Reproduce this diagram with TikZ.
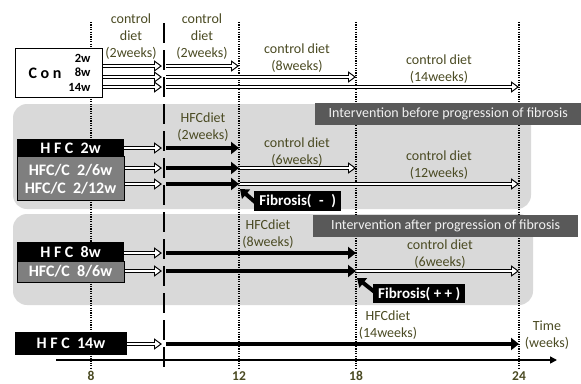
\documentclass[tikz,border=0pt]{standalone}
\usepackage{fontspec}
\setmainfont{Carlito}
\usetikzlibrary{arrows.meta}
\definecolor{dietcol}{HTML}{4A4A22}
\definecolor{panelgray}{HTML}{D9D9D9}
\definecolor{labelgray}{HTML}{595959}
\definecolor{boxgray}{HTML}{7F7F7F}
\definecolor{labeltext}{HTML}{F2F2F2}
\tikzset{
  panel/.style={fill=panelgray, rounded corners=14pt},
  dotline/.style={line width=1.2pt, dash pattern=on 1.2pt off 1.2pt},
  dashline/.style={line width=2.4pt, dash pattern=on 20pt off 7pt},
  hollow/.style={line width=4.8pt, -{Triangle[length=8pt,width=11pt]},
    postaction={draw=white, line width=2.4pt, shorten >=1.94pt,
      -{Triangle[length=4.96pt,width=6.82pt]}}},
  solidarr/.style={line width=4.6pt, -{Triangle[length=8pt,width=12pt]}},
  fibarr/.style={line width=4pt, -{Triangle[length=8pt,width=12pt]}},
  axisarr/.style={line width=1.6pt, -{Triangle[length=7pt,width=7pt]}},
  diet/.style={text=dietcol, align=center, font=\fontsize{14}{17}\selectfont},
  tick/.style={text=dietcol, anchor=base, inner sep=0pt, font=\fontsize{13.5}{16}\selectfont\bfseries},
  boxbase/.style={anchor=north west, inner sep=0pt, minimum width=107pt},
  blackbox/.style={boxbase, fill=black},
  graybox/.style={boxbase, fill=boxgray, draw=black, line width=0.8pt},
  boxtext/.style={text=white, font=\fontsize{16}{19}\selectfont\bfseries},
  labelbox/.style={anchor=north west, inner sep=0pt, fill=labelgray, text=labeltext,
    minimum height=22pt, font=\fontsize{14}{17}\selectfont},
  fibbox/.style={anchor=north west, inner sep=0pt, fill=black, text=white,
    font=\fontsize{15}{18}\selectfont\bfseries},
}
\begin{document}
\begin{tikzpicture}[x=1pt,y=-1pt]
\useasboundingbox (0,0) rectangle (581,383);
% panels
\fill[panel] (13,104) rectangle (531,209);
\fill[panel] (13,214) rectangle (533,305);
% time grid
\foreach \x in {91,239,356,519} \draw[dotline] (\x,22) -- (\x,369);
\draw[dashline] (164,23) -- (164,367);
% intervention labels
\node[labelbox, minimum width=266pt] (lb1) at (315,103) {Intervention before progression of fibrosis};
\node[labelbox, minimum width=265pt] (lb2) at (313,215) {Intervention after progression of fibrosis};
% boxes
\node[anchor=north west, inner sep=0pt, minimum width=87pt, minimum height=49pt, draw=black, fill=white, line width=0.8pt] (con) at (15,48) {};
\node[font=\fontsize{16}{19}\selectfont\bfseries] (contxt) at (45,73) {C o n};
\node[anchor=east, font=\fontsize{12.5}{15}\selectfont\bfseries] (c2) at (94,58) {2w};
\node[anchor=east, font=\fontsize{12.5}{15}\selectfont\bfseries] (c8) at (94,72) {8w};
\node[anchor=east, font=\fontsize{12.5}{15}\selectfont\bfseries] (c14) at (94,87) {14w};

\node[blackbox, minimum height=17pt] (hfc2) at (17,139) {};
\node[graybox, minimum height=44pt] (hfcc2) at (17,156) {};
\node[boxtext] at (70.5,148) {H F C~ 2w};
\node[boxtext] at (70.5,170) {HFC/C~ 2/6w};
\node[boxtext] at (70.5,188) {HFC/C~ 2/12w};

\node[blackbox, minimum height=19pt] (hfc8) at (17,242) {};
\node[graybox, minimum height=21pt] (hfcc8) at (17,261) {};
\node[boxtext] at (70.5,252) {H F C~ 8w};
\node[boxtext] at (70.5,271.5) {HFC/C~ 8/6w};

\node[blackbox, minimum width=112pt, minimum height=23pt] (hfc14) at (15,332) {};
\node[boxtext] at (71,343.5) {H F C~ 14w};

% control arrows
\draw[hollow] (con.east |- 0,66) -- (162,66);
\draw[hollow] (con.east |- 0,77) -- (162,77);
\draw[hollow] (con.east |- 0,87) -- (162,87);
\draw[hollow] (166,66) -- (239,66);
\draw[hollow] (166,77) -- (356,77);
\draw[hollow] (166,87) -- (519,87);

% panel 1 arrows
\draw[hollow] (hfc2.east |- 0,148) -- (162,148);
\draw[hollow] (hfcc2.east |- 0,168) -- (162,168);
\draw[hollow] (hfcc2.east |- 0,184) -- (162,184);
\draw[solidarr] (166,148) -- (239,148);
\draw[solidarr] (166,168) -- (239,168);
\draw[solidarr] (166,184) -- (239,184);
\draw[hollow] (240,168) -- (356,168);
\draw[hollow] (240,184) -- (519,184);

% panel 2 arrows
\draw[hollow] (hfc8.east |- 0,253) -- (162,253);
\draw[hollow] (hfcc8.east |- 0,271) -- (162,271);
\draw[solidarr] (166,253) -- (356,253);
\draw[solidarr] (166,271) -- (356,271);
\draw[hollow] (357,271) -- (519,271);

% bottom row
\draw[hollow] (hfc14.east |- 0,344) -- (162,344);
\draw[solidarr] (166,344) -- (519,344);
\draw[axisarr] (56,360) -- (557,360);

% fibrosis markers
\draw[fibarr] (262,208) -- (240,189);
\node[fibbox, minimum width=87pt, minimum height=20pt] (fb1) at (254,191) {Fibrosis(\enspace-\enspace)};
\draw[fibarr] (381,297) -- (357,278);
\node[fibbox, minimum width=92pt, minimum height=19pt] (fb2) at (373,284) {Fibrosis(~+~+~)};

% diet labels
\node[diet] at (131,37) {control\\diet\\(2weeks)};
\node[diet] at (202,37) {control\\diet\\(2weeks)};
\node[diet] at (297,58) {control diet\\(8weeks)};
\node[diet] at (439,69) {control diet\\(14weeks)};
\node[diet] at (203,127) {HFCdiet\\(2weeks)};
\node[diet] at (297,152) {control diet\\(6weeks)};
\node[diet] at (439,165) {control diet\\(12weeks)};
\node[diet] at (268,234) {HFCdiet\\(8weeks)};
\node[diet] at (440,254) {control diet\\(6weeks)};
\node[diet] at (388,325) {HFCdiet\\(14weeks)};
\node[diet] at (547,335) {Time\\(weeks)};

% ticks
\node[tick] (t8) at (91,380) {8};
\node[tick] (t12) at (239,380) {12};
\node[tick] (t18) at (356,380) {18};
\node[tick] (t24) at (519,380) {24};
\end{tikzpicture}
\end{document}
